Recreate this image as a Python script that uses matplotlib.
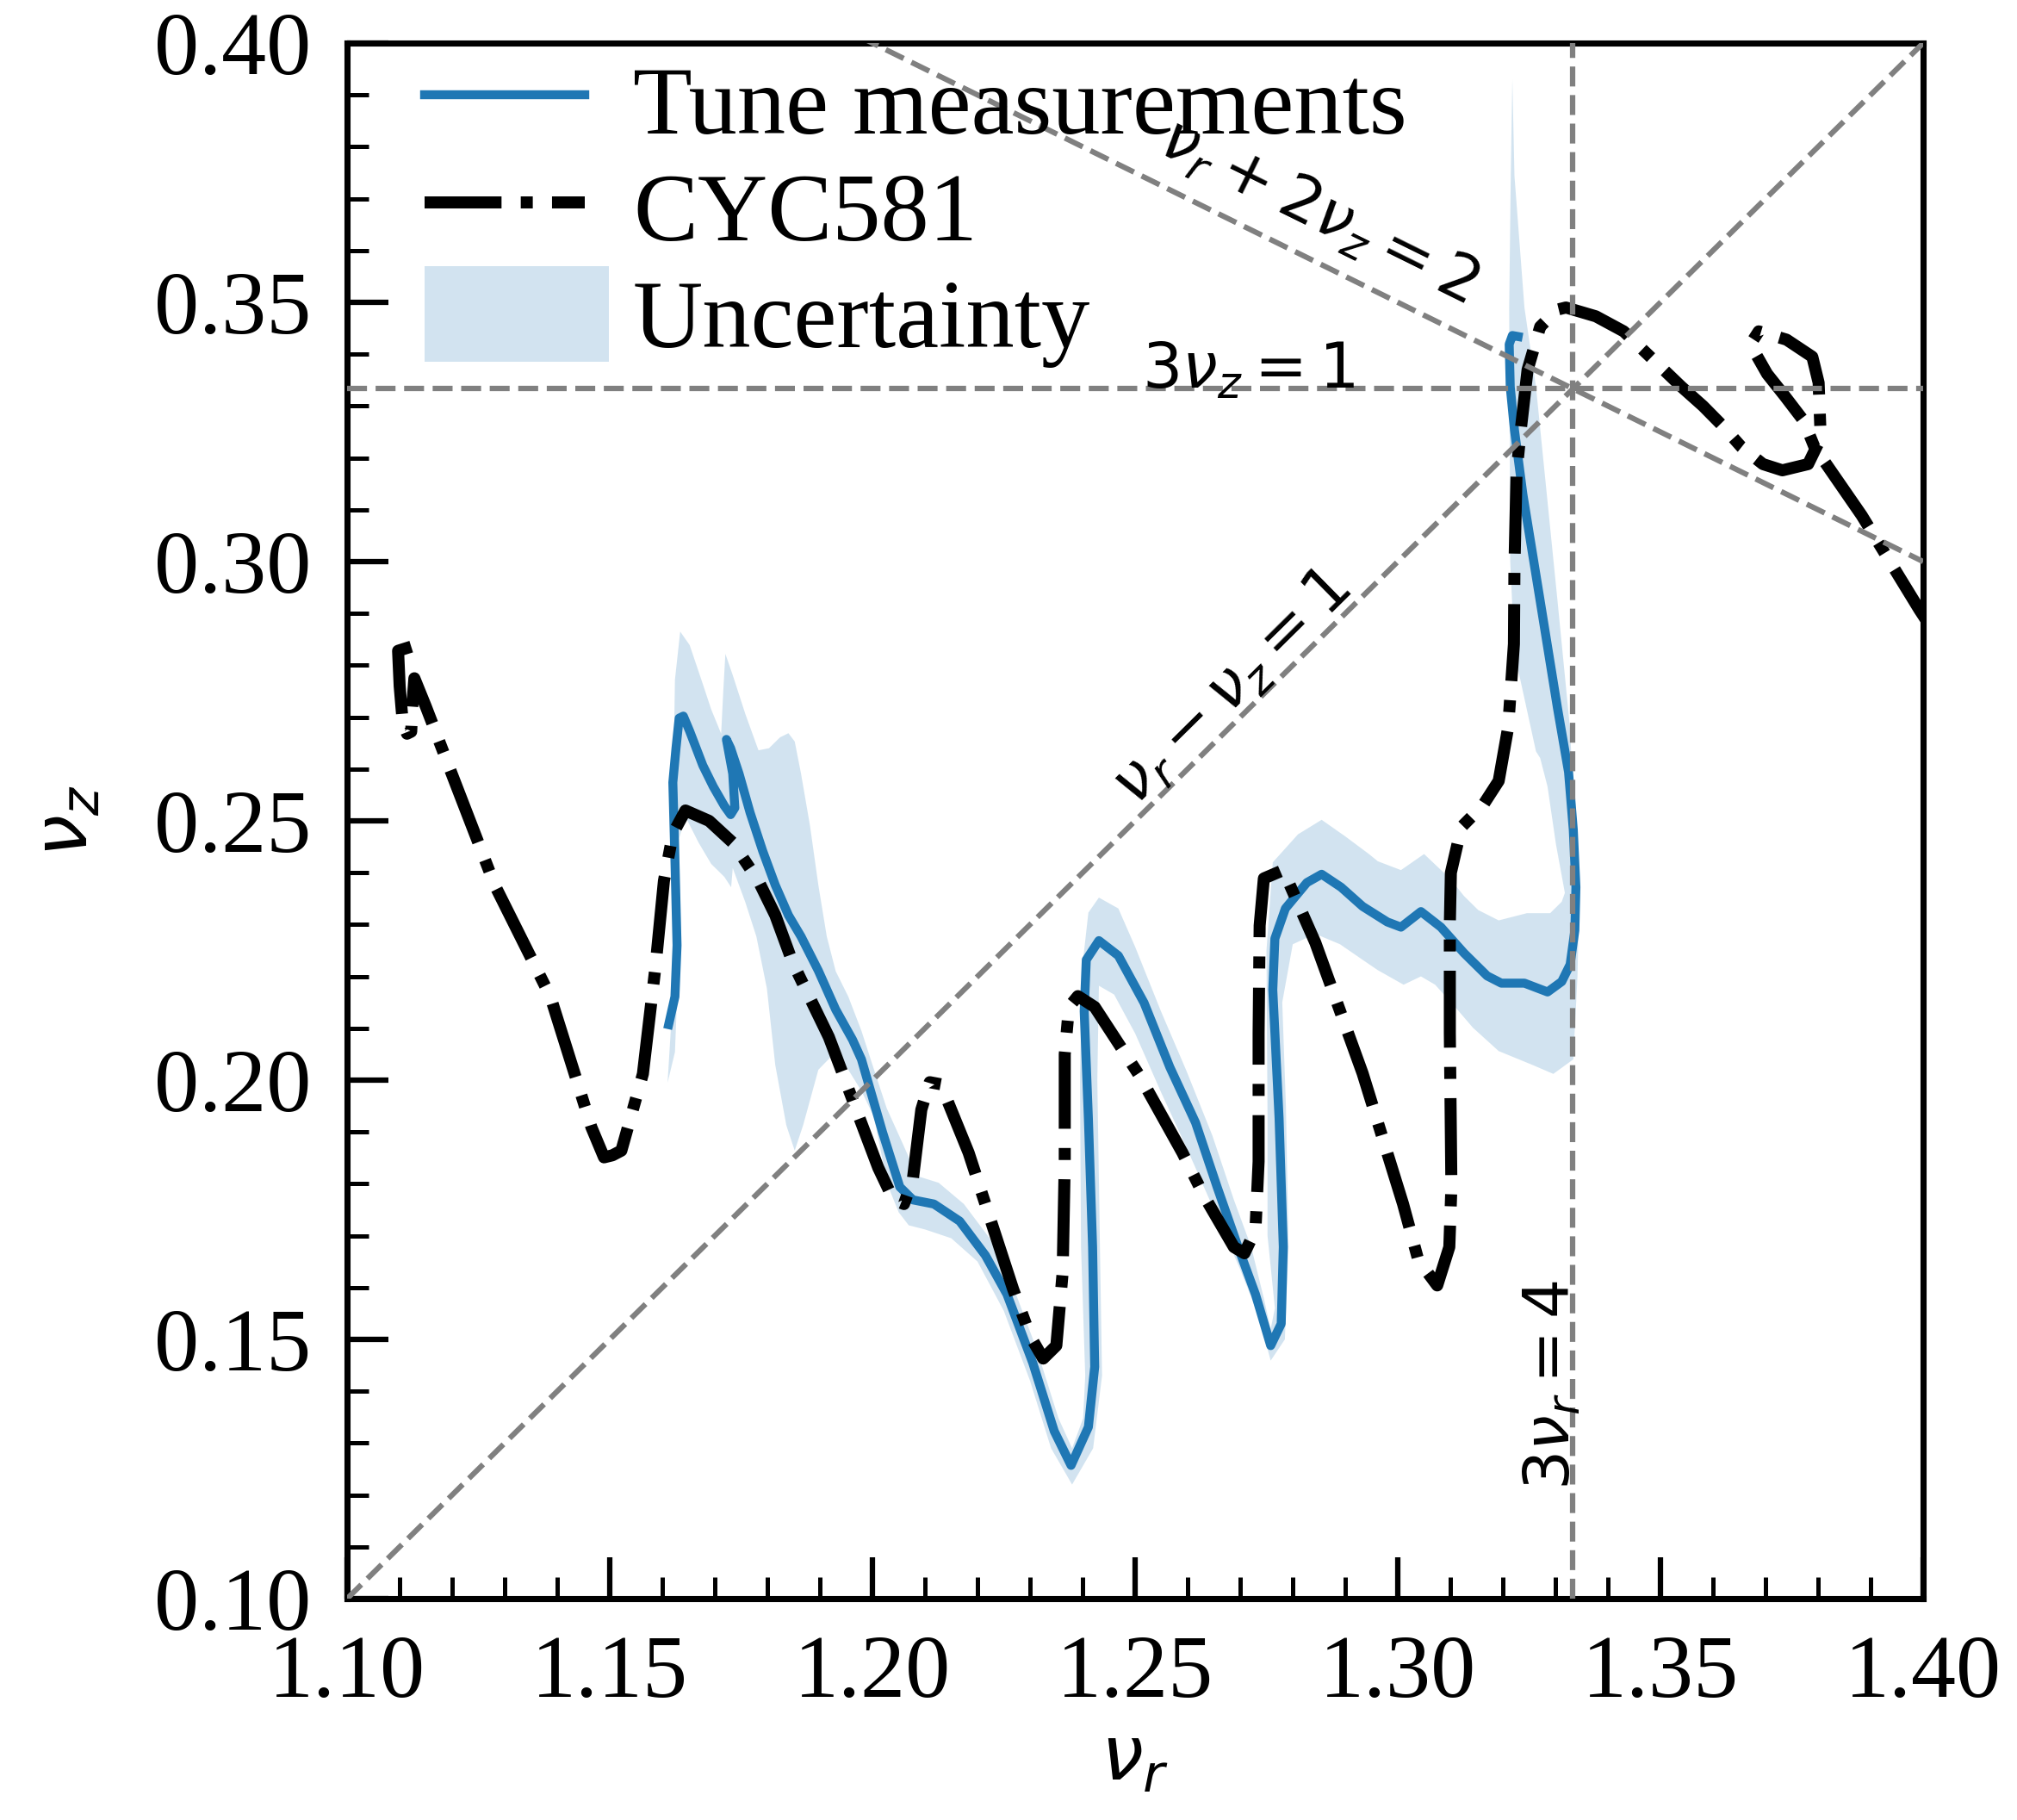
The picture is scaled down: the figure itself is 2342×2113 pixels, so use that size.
import numpy as np
import matplotlib
matplotlib.use("Agg")
import matplotlib.pyplot as plt
import matplotlib.patches as mpatches
from matplotlib.lines import Line2D
from matplotlib.legend_handler import HandlerPatch
from matplotlib.ticker import MultipleLocator

plt.rcParams['font.family'] = ['Liberation Serif', 'DejaVu Serif']
plt.rcParams['mathtext.fontset'] = 'dejavusans'

# measured tunes (nu_r, nu_z)
meas_r = [1.1612, 1.1624, 1.1628, 1.1624, 1.1620, 1.1626, 1.1632, 1.1640, 1.1652, 1.1677,
          1.1697, 1.1718, 1.1730, 1.1738, 1.1734, 1.1722, 1.1730, 1.1746, 1.1767, 1.1791,
          1.1815, 1.1840, 1.1864, 1.1897, 1.1930, 1.1962, 1.1979, 1.2019, 1.2052, 1.2077,
          1.2117, 1.2166, 1.2215, 1.2256, 1.2305, 1.2346, 1.2378, 1.2411, 1.2423, 1.2419,
          1.2411, 1.2403, 1.2407, 1.2431, 1.2468, 1.2517, 1.2566, 1.2615, 1.2656, 1.2696,
          1.2729, 1.2758, 1.2778, 1.2782, 1.2774, 1.2762, 1.2766, 1.2786, 1.2827, 1.2855,
          1.2892, 1.2933, 1.2980, 1.3006, 1.3044, 1.3082, 1.3126, 1.3170, 1.3197, 1.3241,
          1.3285, 1.3312, 1.3328, 1.3337, 1.3339, 1.3334, 1.3325, 1.3304, 1.3271, 1.3238,
          1.3222, 1.3214, 1.3212, 1.3218, 1.3229]
meas_z = [0.2107, 0.2161, 0.2260, 0.2425, 0.2574, 0.2640, 0.2698, 0.2702, 0.2673, 0.2607,
          0.2566, 0.2529, 0.2512, 0.2525, 0.2591, 0.2657, 0.2640, 0.2591, 0.2516, 0.2442,
          0.2376, 0.2318, 0.2277, 0.2211, 0.2136, 0.2078, 0.2040, 0.1900, 0.1794, 0.1769,
          0.1761, 0.1728, 0.1662, 0.1587, 0.1455, 0.1323, 0.1257, 0.1331, 0.1447, 0.1678,
          0.1926, 0.2133, 0.2232, 0.2269, 0.2240, 0.2149, 0.2025, 0.1918, 0.1794, 0.1678,
          0.1587, 0.1488, 0.1530, 0.1678, 0.1926, 0.2174, 0.2273, 0.2331, 0.2381, 0.2397,
          0.2372, 0.2335, 0.2305, 0.2295, 0.2325, 0.2295, 0.2245, 0.2201, 0.2187, 0.2187,
          0.2170, 0.2190, 0.2223, 0.2289, 0.2372, 0.2483, 0.2594, 0.2717, 0.2924, 0.3130,
          0.3254, 0.3337, 0.3419, 0.3436, 0.3434]

# uncertainty envelope, upper and lower edges along the measured curve
band_up_r = [1.1610, 1.1616, 1.1620, 1.1620, 1.1624, 1.1634, 1.1652, 1.1677, 1.1693, 1.1712,
             1.1716, 1.1720, 1.1734, 1.1758, 1.1783, 1.1803, 1.1824, 1.1840, 1.1852, 1.1864,
             1.1881, 1.1897, 1.1913, 1.1930, 1.1954, 1.1979, 1.2003, 1.2027, 1.2060, 1.2085,
             1.2126, 1.2174, 1.2223, 1.2264, 1.2313, 1.2354, 1.2380, 1.2401, 1.2405, 1.2397,
             1.2395, 1.2399, 1.2411, 1.2431, 1.2468, 1.2500, 1.2549, 1.2598, 1.2647, 1.2688,
             1.2721, 1.2745, 1.2758, 1.2766, 1.2752, 1.2752, 1.2750, 1.2762, 1.2810, 1.2855,
             1.2900, 1.2945, 1.2962, 1.3006, 1.3050, 1.3099, 1.3126, 1.3153, 1.3192, 1.3246,
             1.3290, 1.3312, 1.3318, 1.3301, 1.3285, 1.3271, 1.3263, 1.3222, 1.3214, 1.3212,
             1.3215, 1.3218]
band_up_z = [0.1995, 0.2095, 0.2260, 0.2508, 0.2772, 0.2865, 0.2839, 0.2764, 0.2715, 0.2668,
             0.2750, 0.2822, 0.2781, 0.2706, 0.2636, 0.2640, 0.2661, 0.2669, 0.2653, 0.2591,
             0.2491, 0.2376, 0.2277, 0.2210, 0.2161, 0.2095, 0.2020, 0.1946, 0.1872, 0.1815,
             0.1802, 0.1761, 0.1695, 0.1612, 0.1480, 0.1348, 0.1290, 0.1348, 0.1430, 0.1678,
             0.2009, 0.2215, 0.2323, 0.2352, 0.2331, 0.2257, 0.2133, 0.2017, 0.1893, 0.1769,
             0.1678, 0.1579, 0.1520, 0.1560, 0.1700, 0.1926, 0.2250, 0.2420, 0.2474, 0.2502,
             0.2470, 0.2436, 0.2422, 0.2405, 0.2436, 0.2389, 0.2355, 0.2328, 0.2308, 0.2322,
             0.2322, 0.2344, 0.2361, 0.2455, 0.2566, 0.2621, 0.2634, 0.2824, 0.3000, 0.3490,
             0.3744, 0.3930]
band_lo_r = [1.1610, 1.1624, 1.1632, 1.1632, 1.1644, 1.1669, 1.1693, 1.1718, 1.1731, 1.1734,
             1.1758, 1.1779, 1.1799, 1.1815, 1.1836, 1.1852, 1.1868, 1.1897, 1.1921, 1.1954,
             1.1979, 1.2003, 1.2028, 1.2050, 1.2069, 1.2100, 1.2150, 1.2200, 1.2250, 1.2300,
             1.2340, 1.2380, 1.2420, 1.2437, 1.2433, 1.2428, 1.2431, 1.2460, 1.2500, 1.2550,
             1.2600, 1.2650, 1.2700, 1.2735, 1.2758, 1.2785, 1.2792, 1.2787, 1.2780, 1.2800,
             1.2843, 1.2890, 1.2933, 1.2962, 1.3011, 1.3044, 1.3071, 1.3110, 1.3143, 1.3192,
             1.3257, 1.3296, 1.3334, 1.3342, 1.3344, 1.3340, 1.3328, 1.3304, 1.3263, 1.3241,
             1.3222, 1.3218]
band_lo_z = [0.1995, 0.2054, 0.2260, 0.2466, 0.2508, 0.2458, 0.2417, 0.2392, 0.2372, 0.2409,
             0.2343, 0.2277, 0.2177, 0.2029, 0.1913, 0.1864, 0.1913, 0.2020, 0.2045, 0.2020,
             0.1979, 0.1929, 0.1800, 0.1745, 0.1720, 0.1712, 0.1695, 0.1650, 0.1555, 0.1420,
             0.1290, 0.1220, 0.1290, 0.1430, 0.1678, 0.2000, 0.2182, 0.2165, 0.2090, 0.1975,
             0.1865, 0.1750, 0.1635, 0.1545, 0.1459, 0.1500, 0.1678, 0.1950, 0.2150, 0.2262,
             0.2282, 0.2262, 0.2232, 0.2212, 0.2184, 0.2200, 0.2184, 0.2140, 0.2101, 0.2056,
             0.2029, 0.2012, 0.2040, 0.2200, 0.2300, 0.2400, 0.2676, 0.2924, 0.3337, 0.3490,
             0.3744, 0.3930]

# CYC581 computed tunes
cyc_r = [1.1122, 1.1097, 1.1100, 1.1106, 1.1114, 1.1122, 1.1124, 1.1128, 1.1150, 1.1188,
         1.1281, 1.1387, 1.1465, 1.1489, 1.1505, 1.1522, 1.1563, 1.1587, 1.1603, 1.1620,
         1.1644, 1.1689, 1.1734, 1.1783, 1.1815, 1.1848, 1.1917, 1.2011, 1.2040, 1.2060,
         1.2077, 1.2093, 1.2109, 1.2130, 1.2183, 1.2223, 1.2268, 1.2301, 1.2325, 1.2350,
         1.2362, 1.2366, 1.2366, 1.2374, 1.2391, 1.2423, 1.2508, 1.2590, 1.2631, 1.2688,
         1.2708, 1.2729, 1.2735, 1.2735, 1.2737, 1.2745, 1.2782, 1.2843, 1.2933, 1.3010,
         1.3039, 1.3075, 1.3098, 1.3102, 1.3099, 1.3099, 1.3101, 1.3121, 1.3162, 1.3192,
         1.3210, 1.3221, 1.3222, 1.3226, 1.3234, 1.3247, 1.3271, 1.3304, 1.3320, 1.3377,
         1.3430, 1.3540, 1.3581, 1.3618, 1.3654, 1.3695, 1.3732, 1.3781, 1.3805, 1.3801,
         1.3789, 1.3740, 1.3687, 1.3671, 1.3703, 1.3736, 1.3773, 1.3793, 1.3883, 1.3993,
         1.4030]
cyc_z = [0.2836, 0.2828, 0.2760, 0.2688, 0.2668, 0.2672, 0.2720, 0.2775, 0.2720, 0.2620,
         0.2376, 0.2161, 0.1909, 0.1851, 0.1855, 0.1864, 0.2012, 0.2219, 0.2384, 0.2475,
         0.2520, 0.2500, 0.2458, 0.2384, 0.2318, 0.2227, 0.2083, 0.1831, 0.1769, 0.1761,
         0.1810, 0.1943, 0.1996, 0.1992, 0.1860, 0.1736, 0.1596, 0.1505, 0.1463, 0.1488,
         0.1629, 0.1843, 0.2050, 0.2141, 0.2162, 0.2141, 0.2009, 0.1860, 0.1777, 0.1678,
         0.1666, 0.1711, 0.1843, 0.2091, 0.2298, 0.2389, 0.2405, 0.2265, 0.2013, 0.1761,
         0.1653, 0.1604, 0.1678, 0.1794, 0.2091, 0.2300, 0.2400, 0.2488, 0.2530, 0.2577,
         0.2680, 0.2841, 0.2990, 0.3172, 0.3254, 0.3370, 0.3453, 0.3486, 0.3490, 0.3473,
         0.3444, 0.3337, 0.3300, 0.3262, 0.3221, 0.3188, 0.3176, 0.3188, 0.3238, 0.3345,
         0.3395, 0.3428, 0.3444, 0.3419, 0.3362, 0.3320, 0.3271, 0.3221, 0.3089, 0.2907,
         0.2850]

fig = plt.figure(figsize=(2342 / 300, 2113 / 300), dpi=300)
ax = fig.add_axes([0.1721, 0.12163, 0.78138, 0.85471])
ax.set_xlim(1.10, 1.40)
ax.set_ylim(0.10, 0.40)

band_r = np.concatenate([band_up_r, band_lo_r[::-1]])
band_z = np.concatenate([band_up_z, band_lo_z[::-1]])
ax.fill(band_r, band_z, color='tab:blue', alpha=0.2, lw=0, zorder=1)
ax.plot(meas_r, meas_z, color='tab:blue', lw=2.5, zorder=2, solid_joinstyle='round')
ax.plot(cyc_r, cyc_z, color='black', lw=3.35, ls='-.', zorder=2)

# resonance lines
res_kw = dict(color='gray', ls='--', lw=1.5, zorder=3)
r_line = np.array([1.10, 1.40])
ax.axhline(1 / 3, **res_kw)
ax.axvline(4 / 3, **res_kw)
ax.plot(r_line, r_line - 1, **res_kw)
ax.plot(r_line, (2 - r_line) / 2, **res_kw)

lab_kw = dict(fontsize=17.5, family='DejaVu Sans', ha='center', va='baseline',
              rotation_mode='anchor', transform_rotates_text=True)
ax.text(1.2715, 0.3336, r'$3\nu_z = 1$', **lab_kw)
ax.text(1.2707, 0.2733, r'$\nu_r - \nu_z = 1$', rotation=45, **lab_kw)
ax.text(1.2833, 0.3645, r'$\nu_r + 2\nu_z = 2$', rotation=np.degrees(np.arctan(-0.5)), **lab_kw)
ax.text(1.3326, 0.1412, r'$3\nu_r = 4$', rotation=90, **lab_kw)

ax.set_xlabel(r'$\nu_r$', fontsize=21, labelpad=3)
ax.set_ylabel(r'$\nu_z$', fontsize=21, labelpad=14)

ax.xaxis.set_major_locator(MultipleLocator(0.05))
ax.xaxis.set_minor_locator(MultipleLocator(0.01))
ax.yaxis.set_major_locator(MultipleLocator(0.05))
ax.yaxis.set_minor_locator(MultipleLocator(0.01))
ax.xaxis.set_major_formatter(plt.FormatStrFormatter('%.2f'))
ax.yaxis.set_major_formatter(plt.FormatStrFormatter('%.2f'))
ax.tick_params(which='both', direction='in', top=False, right=False)
ax.tick_params(which='major', length=11.5, width=1.5, labelsize=25, pad=10)
ax.tick_params(which='minor', length=6, width=1.2)
for sp in ax.spines.values():
    sp.set_linewidth(1.7)


def wide_box(legend, orig_handle, xdescent, ydescent, width, height, fontsize):
    # the shaded box in the legend is a bit larger than the line handles
    return mpatches.Rectangle((-xdescent, -ydescent - 0.05 * height),
                              width * 1.15, height * 1.1)


handles = [Line2D([], [], color='tab:blue', lw=2.5),
           Line2D([], [], color='black', lw=3.35, ls='-.'),
           mpatches.Patch(color='tab:blue', alpha=0.2, lw=0)]
labels = ['Tune measurements', 'CYC581', 'Uncertainty']
ax.legend(handles, labels, loc='upper left', bbox_to_anchor=(0.0, 1.041),
          fontsize=27, frameon=False, handlelength=1.65, handletextpad=0.5,
          labelspacing=0.1, borderaxespad=0.4, handleheight=1.0,
          handler_map={mpatches.Patch: HandlerPatch(patch_func=wide_box)})

fig.savefig('out.png', dpi=300)
